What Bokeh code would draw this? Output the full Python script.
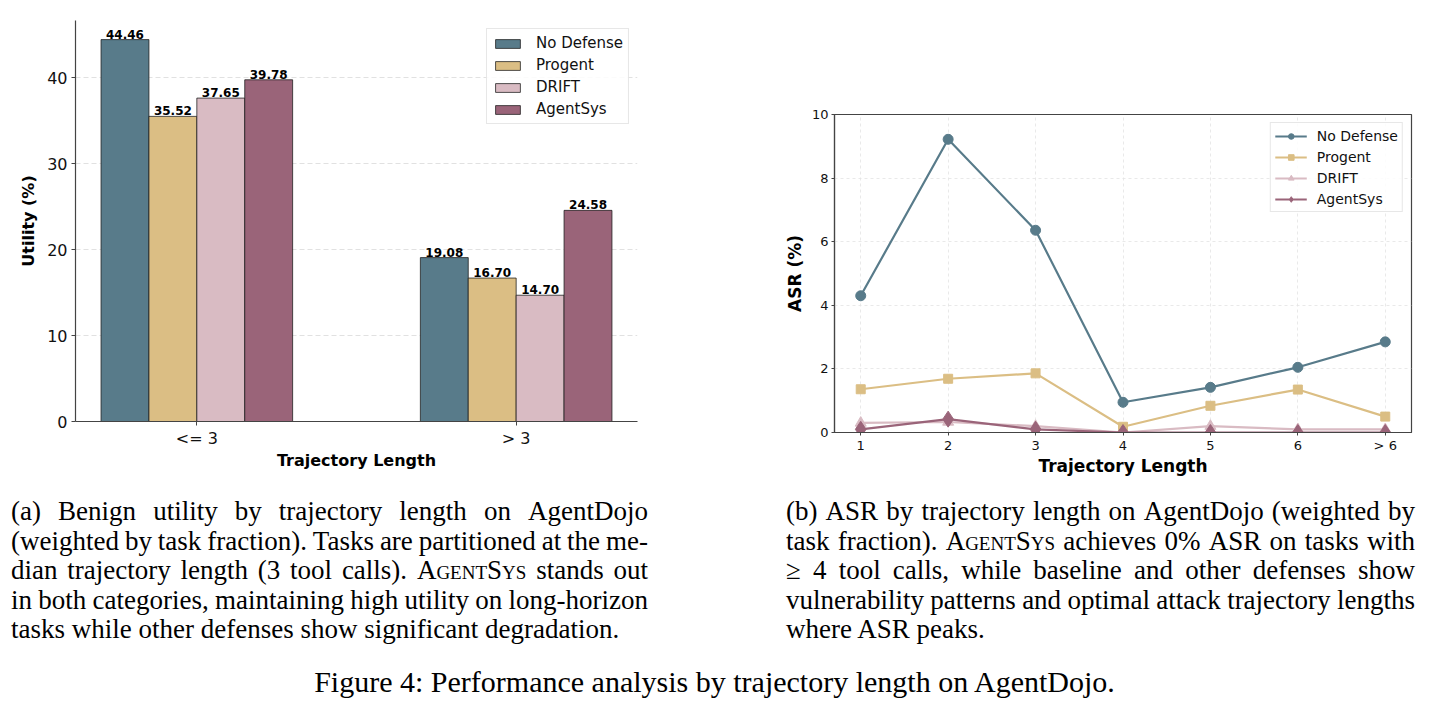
from bokeh.plotting import figure
from bokeh.models import Range1d, FixedTicker, Legend, LegendItem, Div, Spacer
from bokeh.layouts import column, row
from bokeh.embed import file_html
from bokeh.resources import INLINE
from bokeh.core.properties import value

# ---------------- data ----------------
methods = ["No Defense", "Progent", "DRIFT", "AgentSys"]
colors = ["#587B8A", "#DBBE84", "#D9BBC3", "#9A6479"]

length_groups = ["<= 3", "> 3"]
util_no_defense = [44.46, 19.08]
util_progent = [35.52, 16.70]
util_drift = [37.65, 14.70]
util_agentsys = [39.78, 24.58]

traj_labels = ["1", "2", "3", "4", "5", "6", "> 6"]
asr_no_defense = [4.30, 9.22, 6.36, 0.95, 1.42, 2.05, 2.85]
asr_progent = [1.36, 1.69, 1.86, 0.18, 0.84, 1.35, 0.50]
asr_drift = [0.30, 0.33, 0.20, 0.00, 0.20, 0.10, 0.10]
asr_agentsys = [0.10, 0.42, 0.10, 0.00, 0.00, 0.00, 0.00]

caption_a = [
    "(a) Benign utility by trajectory length on AgentDojo",
    "(weighted by task fraction). Tasks are partitioned at the me-",
    "dian trajectory length (3 tool calls). AgentSys stands out",
    "in both categories, maintaining high utility on long-horizon",
    "tasks while other defenses show significant degradation.",
]
caption_b = [
    "(b) ASR by trajectory length on AgentDojo (weighted by",
    "task fraction). AgentSys achieves 0% ASR on tasks with",
    "\u2265 4 tool calls, while baseline and other defenses show",
    "vulnerability patterns and optimal attack trajectory lengths",
    "where ASR peaks.",
]
fig_caption = "Figure 4: Performance analysis by trajectory length on AgentDojo."

FONT = "DejaVu Sans"
AX = "#444444"
BT = 20    # common top border
BB = 60    # common bottom border

def style_axes(p, tick_size, label_size):
    p.axis.axis_line_color = AX
    p.axis.axis_line_width = 1.2
    p.axis.major_tick_line_color = AX
    p.axis.minor_tick_line_color = None
    p.axis.major_tick_in = 0
    p.axis.major_label_text_font = FONT
    p.axis.major_label_text_font_size = tick_size
    p.axis.major_label_text_color = "#111111"
    p.axis.axis_label_text_font = FONT
    p.axis.axis_label_text_font_size = label_size
    p.axis.axis_label_text_font_style = "bold"
    p.axis.axis_label_text_color = "#000000"

# ---------------- left: utility bars ----------------
util_series = [util_no_defense, util_progent, util_drift, util_agentsys]
ymax = max(max(s) for s in util_series) * 1.05
bw = 0.15

p1 = figure(width=740, height=BT + 401 + BB, x_range=Range1d(-0.38, 1.38), y_range=Range1d(0, ymax),
            output_backend="svg", toolbar_location=None,
            min_border_left=75, min_border_right=103, min_border_top=BT, min_border_bottom=BB)
p1.outline_line_color = None
p1.xgrid.grid_line_color = None
p1.ygrid.grid_line_color = "#d9d9d9"
p1.ygrid.grid_line_alpha = 0.8
p1.ygrid.grid_line_dash = "5 3"

items1 = []
for i, (m, vals, c) in enumerate(zip(methods, util_series, colors)):
    xs = [g + (i - 1.5) * bw for g in range(len(length_groups))]
    r = p1.vbar(x=xs, top=vals, width=bw, fill_color=c, line_color="#1a1a1a",
                line_alpha=0.75, line_width=1)
    items1.append(LegendItem(label=m, renderers=[r]))
    p1.text(x=xs, y=vals, text=[f"{v:.2f}" for v in vals], text_align="center",
            text_baseline="bottom", text_font=value(FONT), text_font_size="12px",
            text_font_style="bold", text_color="#000000", y_offset=-1)

p1.xaxis.ticker = FixedTicker(ticks=list(range(len(length_groups))))
p1.xaxis.major_label_overrides = {i: g for i, g in enumerate(length_groups)}
p1.yaxis.ticker = FixedTicker(ticks=[0, 10, 20, 30, 40])
p1.xaxis.axis_label = "Trajectory Length"
p1.yaxis.axis_label = "Utility (%)"
style_axes(p1, "16px", "16px")
p1.axis.major_tick_out = 4
p1.axis.major_label_standoff = 4
p1.xaxis.major_label_standoff = 3
p1.yaxis.axis_label_standoff = 6
p1.xaxis.axis_label_standoff = 0

leg1 = Legend(items=items1, location="top_right", margin=8, padding=5, spacing=4,
              glyph_width=31, glyph_height=11, label_height=18, label_standoff=13,
              label_text_font=FONT, label_text_font_size="15px", label_text_color="#111111",
              border_line_color="#d0d0d0", border_line_width=1,
              background_fill_alpha=0.85)
p1.add_layout(leg1)

# ---------------- right: ASR lines ----------------
asr_series = [asr_no_defense, asr_progent, asr_drift, asr_agentsys]
markers = ["circle", "square", "triangle", "diamond"]
msizes = [10, 9, 11, 16]
xs2 = list(range(len(traj_labels)))

p2 = figure(width=689, height=BT + 318 + BB, x_range=Range1d(-0.3, len(traj_labels) - 0.7),
            y_range=Range1d(0, 10), output_backend="svg", toolbar_location=None,
            min_border_left=94, min_border_right=18, min_border_top=BT, min_border_bottom=BB)
p2.outline_line_color = AX
p2.outline_line_width = 1.2
p2.grid.grid_line_color = "#e3e3e3"
p2.grid.grid_line_alpha = 0.8
p2.grid.grid_line_dash = "3 3"

items2 = []
for m, vals, c, mk, ms in zip(methods, asr_series, colors, markers, msizes):
    lr = p2.line(xs2, vals, line_color=c, line_width=2.2)
    sr = p2.scatter(xs2, vals, marker=mk, size=ms, fill_color=c, line_color=c)
    items2.append(LegendItem(label=m, renderers=[lr, sr]))

p2.xaxis.ticker = FixedTicker(ticks=xs2)
p2.xaxis.major_label_overrides = {i: t for i, t in enumerate(traj_labels)}
p2.yaxis.ticker = FixedTicker(ticks=[0, 2, 4, 6, 8, 10])
p2.xaxis.axis_label = "Trajectory Length"
p2.yaxis.axis_label = "ASR (%)"
style_axes(p2, "13px", "17px")
p2.axis.major_tick_out = 3
p2.axis.major_label_standoff = 3
p2.xaxis.major_label_standoff = 2
p2.yaxis.axis_label_standoff = 4
p2.xaxis.axis_label_standoff = 0

leg2 = Legend(items=items2, location="top_right", margin=8, padding=4, spacing=4,
              glyph_width=32, glyph_height=14, label_height=17, label_standoff=10,
              label_text_font=FONT, label_text_font_size="14px", label_text_color="#111111",
              border_line_color="#d0d0d0", border_line_width=1,
              background_fill_alpha=0.85)
p2.add_layout(leg2)

row_h = 432 + BB
left_col = column(p1, Spacer(width=740, height=row_h - (421 + BB)), spacing=0)
right_col = column(Spacer(width=689, height=114 - BT), p2, spacing=0)

# ---------------- captions ----------------
def word_span(w):
    if "AgentSys" in w:
        w = w.replace("AgentSys", '<span style="font-variant:small-caps">AgentSys</span>')
    return f"<span>{w}</span>"

def block(lines, left, width, top):
    out = []
    for k, ln in enumerate(lines):
        y = top + k * 29.6
        last = k == len(lines) - 1
        if last:
            inner = " ".join(word_span(w) for w in ln.split(" "))
            out.append(f'<div style="position:absolute;left:{left}px;top:{y}px;'
                       f'white-space:pre;height:30px;line-height:30px">{inner}</div>')
        else:
            inner = "".join(word_span(w) for w in ln.split(" "))
            out.append(f'<div style="position:absolute;left:{left}px;top:{y}px;width:{width}px;'
                       f'display:flex;justify-content:space-between;white-space:nowrap;'
                       f'height:30px;line-height:30px">{inner}</div>')
    return "".join(out)

cap_h = 713 - row_h
off = 496 - row_h
html = (f'<div style="position:relative;width:1429px;height:{cap_h}px;'
        'font-family:\'Liberation Serif\',serif;font-size:27px;color:#000">'
        + block(caption_a, 11, 637, off)
        + block(caption_b, 786, 629, off)
        + f'<div style="position:absolute;left:0px;top:{666 - row_h}px;width:1429px;text-align:center;'
          f'font-size:30px;height:32px;line-height:32px;white-space:nowrap">{fig_caption}</div>'
        + '</div>')
cap = Div(text=html, width=1429, height=cap_h, margin=(0, 0, 0, 0))

layout = column(row(left_col, right_col, spacing=0), cap, spacing=0)
open("out.html", "w").write(file_html(layout, INLINE))
